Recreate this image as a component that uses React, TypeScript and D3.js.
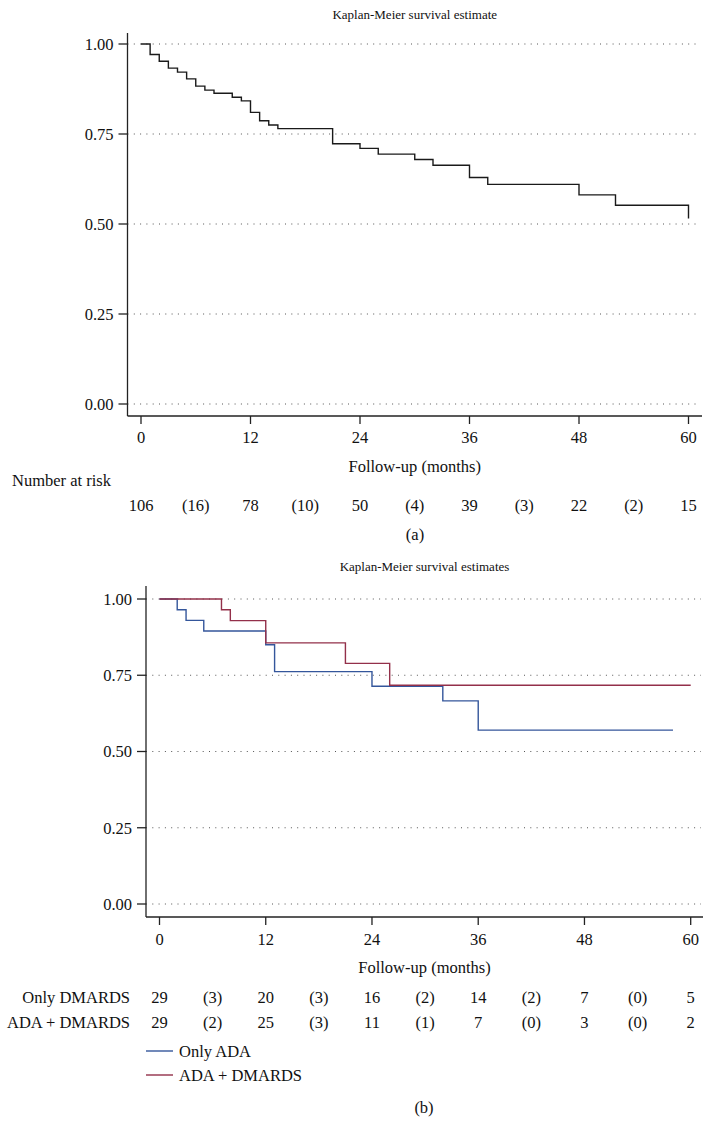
import React from "react";
import * as d3 from "d3";

// ---------- Data ----------
const xTicks = [0, 12, 24, 36, 48, 60];
const yTicks = [0, 0.25, 0.5, 0.75, 1.0];
const yTickLabels = ["0.00", "0.25", "0.50", "0.75", "1.00"];

// Panel (a): overall Kaplan-Meier
const allTimes = [0, 1, 2, 3, 4, 5, 6, 7, 8, 10, 11, 12, 13, 14, 15, 21, 24, 26, 30, 32, 36, 38, 48, 52, 60, 60];
const allSurv = [1.0, 0.971, 0.952, 0.933, 0.922, 0.903, 0.883, 0.872, 0.863, 0.852, 0.842, 0.81, 0.787, 0.775, 0.765, 0.723, 0.71, 0.694, 0.679, 0.663, 0.629, 0.61, 0.581, 0.552, 0.552, 0.515];
const riskPositions = [0, 6, 12, 18, 24, 30, 36, 42, 48, 54, 60];
const riskAll = ["106", "(16)", "78", "(10)", "50", "(4)", "39", "(3)", "22", "(2)", "15"];

// Panel (b): by group
const adaTimes = [0, 2, 3, 5, 12, 13, 24, 32, 36, 58];
const adaSurv = [1.0, 0.965, 0.93, 0.895, 0.85, 0.762, 0.714, 0.666, 0.57, 0.57];
const comboTimes = [0, 7, 8, 12, 21, 26, 60];
const comboSurv = [1.0, 0.965, 0.929, 0.856, 0.789, 0.717, 0.717];
const riskRowLabels = ["Only DMARDS", "ADA + DMARDS"];
const riskOnly = ["29", "(3)", "20", "(3)", "16", "(2)", "14", "(2)", "7", "(0)", "5"];
const riskCombo = ["29", "(2)", "25", "(3)", "11", "(1)", "7", "(0)", "3", "(0)", "2"];
const legendLabels = ["Only ADA", "ADA + DMARDS"];
const seriesColors = ["#34569b", "#93304a"];

const FONT = "Liberation Serif, DejaVu Serif, serif";
const FS = 16.5;
const TFS = 13;
const AXIS = "#222";

type PanelProps = {
  x: d3.ScaleLinear<number, number>;
  y: d3.ScaleLinear<number, number>;
  axisX: number;
  axisY: number;
  axisTop: number;
  axisRight: number;
  title: string;
  titleY: number;
  xLabelY: number;
  xTitleY: number;
};

const txt = { fontFamily: FONT, fontSize: FS, fill: "#111" } as const;

function Axes({ x, y, axisX, axisY, axisTop, axisRight, title, titleY, xLabelY, xTitleY }: PanelProps) {
  const cx = (axisX + axisRight) / 2;
  return (
    <g>
      {yTicks.map((t) => (
        <line key={"g" + t} x1={axisX} x2={axisRight - 2} y1={y(t)} y2={y(t)} stroke="#555" strokeWidth={1} strokeDasharray="1 5.3" />
      ))}
      <line x1={axisX} x2={axisX} y1={axisTop} y2={axisY} stroke={AXIS} strokeWidth={1.3} />
      <line x1={axisX} x2={axisRight} y1={axisY} y2={axisY} stroke={AXIS} strokeWidth={1.3} />
      {yTicks.map((t, i) => (
        <g key={"y" + t}>
          <line x1={axisX - 9} x2={axisX} y1={y(t)} y2={y(t)} stroke={AXIS} strokeWidth={1.3} />
          <text x={axisX - 14} y={y(t)} dy="0.35em" textAnchor="end" style={txt}>
            {yTickLabels[i]}
          </text>
        </g>
      ))}
      {xTicks.map((t) => (
        <g key={"x" + t}>
          <line x1={x(t)} x2={x(t)} y1={axisY} y2={axisY + 8} stroke={AXIS} strokeWidth={1.3} />
          <text x={x(t)} y={xLabelY} textAnchor="middle" style={txt}>
            {t}
          </text>
        </g>
      ))}
      <text x={cx} y={xTitleY} textAnchor="middle" style={txt}>
        Follow-up (months)
      </text>
      <text x={cx} y={titleY} textAnchor="middle" style={{ ...txt, fontSize: TFS }}>
        {title}
      </text>
    </g>
  );
}

export default function App() {
  const xa = d3.scaleLinear().domain([0, 60]).range([141, 688.5]);
  const ya = d3.scaleLinear().domain([0, 1]).range([404, 44]);
  const xb = d3.scaleLinear().domain([0, 60]).range([159.5, 690.7]);
  const yb = d3.scaleLinear().domain([0, 1]).range([904, 599]);

  const lineA = d3
    .line<number>()
    .x((_, i) => xa(allTimes[i]))
    .y((d) => ya(d))
    .curve(d3.curveStepAfter);
  const lineB = (times: number[]) =>
    d3
      .line<number>()
      .x((_, i) => xb(times[i]))
      .y((d) => yb(d))
      .curve(d3.curveStepAfter);

  return (
    <svg width={714} height={1139} style={{ position: "absolute", left: 0, top: 0, background: "#fff" }}>
      <rect x={0} y={0} width={714} height={1139} fill="#fff" />
      <Axes x={xa} y={ya} axisX={127.5} axisY={416} axisTop={33} axisRight={702} title="Kaplan-Meier survival estimate" titleY={19} xLabelY={443} xTitleY={472} />
      <path d={lineA(allSurv) || ""} fill="none" stroke="#1a1a1a" strokeWidth={1.4} />
      <text x={12} y={486} style={txt}>
        Number at risk
      </text>
      {riskAll.map((s, i) => (
        <text key={"ra" + i} x={xa(riskPositions[i])} y={511} textAnchor="middle" style={txt}>
          {s}
        </text>
      ))}
      <text x={415} y={540} textAnchor="middle" style={txt}>
        (a)
      </text>

      <Axes x={xb} y={yb} axisX={146} axisY={917} axisTop={586} axisRight={703} title="Kaplan-Meier survival estimates" titleY={571} xLabelY={945} xTitleY={973} />
      <path d={lineB(adaTimes)(adaSurv) || ""} fill="none" stroke={seriesColors[0]} strokeWidth={1.4} />
      <path d={lineB(comboTimes)(comboSurv) || ""} fill="none" stroke={seriesColors[1]} strokeWidth={1.4} />
      {[riskOnly, riskCombo].map((row, r) => (
        <g key={"rb" + r}>
          <text x={130} y={1003 + r * 25} textAnchor="end" style={txt}>
            {riskRowLabels[r]}
          </text>
          {row.map((s, i) => (
            <text key={i} x={xb(riskPositions[i])} y={1003 + r * 25} textAnchor="middle" style={txt}>
              {s}
            </text>
          ))}
        </g>
      ))}
      {legendLabels.map((l, i) => (
        <g key={"lg" + i}>
          <line x1={146} x2={173} y1={1051 + i * 24} y2={1051 + i * 24} stroke={seriesColors[i]} strokeWidth={1.4} />
          <text x={179} y={1051 + i * 24} dy="0.35em" style={txt}>
            {l}
          </text>
        </g>
      ))}
      <text x={424} y={1113} textAnchor="middle" style={txt}>
        (b)
      </text>
    </svg>
  );
}
